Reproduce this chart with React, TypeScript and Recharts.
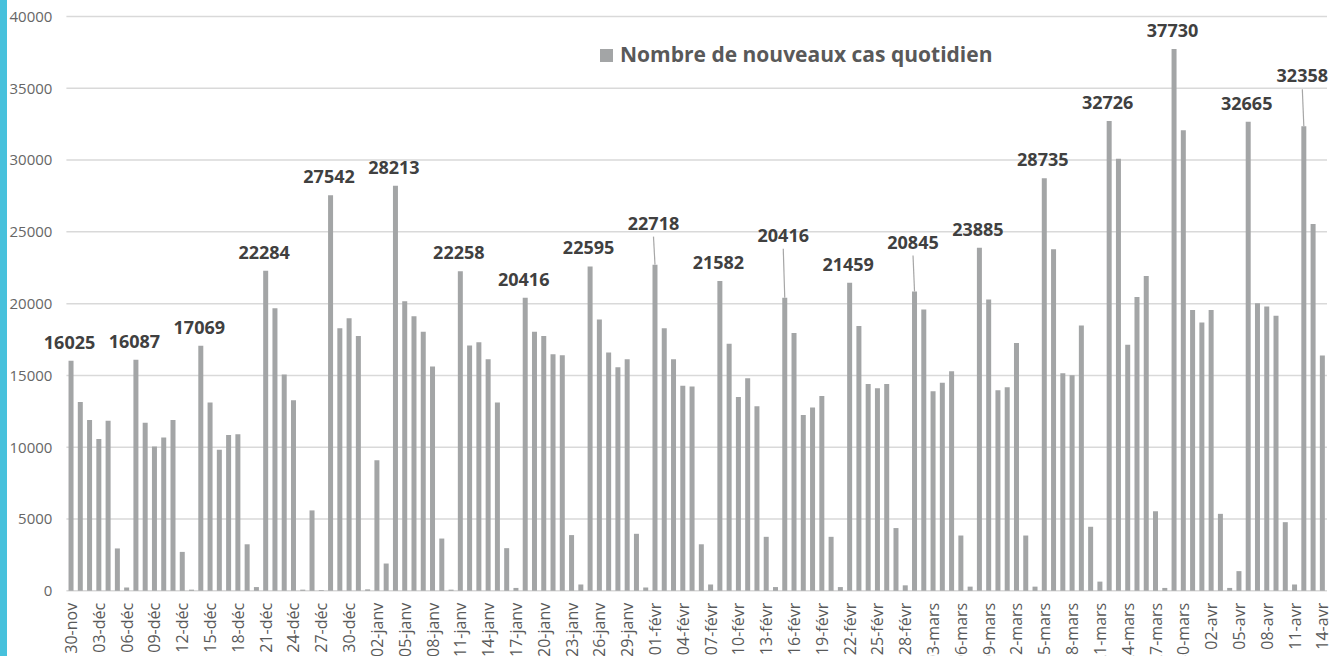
import React from 'react';
import { BarChart, Bar, XAxis, YAxis, CartesianGrid, Legend, LabelList } from 'recharts';

// daily new cases, one array per month
const novValues = [16025];
const decValues = [
  13150, 11900, 10580, 11840, 2950, 230, 16087, 11700, 10050, 10670, 11900, 2710, 80, 17069, 13120, 9830,
  10850, 10900, 3240, 260, 22284, 19680, 15070, 13270, 80, 5600, 50, 27542, 18280, 18980, 17750,
];
const janValues = [
  100, 9100, 1900, 28213, 20170, 19120, 18050, 15630, 3640, 80, 22258, 17080, 17320, 16120, 13120, 2970,
  200, 20416, 18050, 17750, 16470, 16410, 3880, 440, 22595, 18890, 16590, 15570, 16120, 3970, 230,
];
const febValues = [
  22718, 18280, 16120, 14290, 14230, 3240, 440, 21582, 17200, 13500, 14810, 12860, 3760, 260, 20416, 17960,
  12240, 12770, 13560, 3760, 260, 21459, 18450, 14400, 14110, 14400, 4370, 380,
];
const marValues = [
  20845, 19590, 13900, 14490, 15300, 3850, 290, 23885, 20290, 13970, 14170, 17260, 3850, 290, 28735, 23790,
  15160, 15010, 18480, 4460, 640, 32726, 30090, 17140, 20470, 21920, 5540, 200, 37730, 32070, 19560,
];
const aprValues = [18690, 19560, 5360, 200, 1370, 32665, 20030, 19800, 19150, 4780, 440, 32358, 25540, 16380];

const monthNames = ['nov', 'déc', 'janv', 'févr', 'mars', 'avr'];
const firstDays = [30, 1, 1, 1, 1, 1];
const monthValues = [novValues, decValues, janValues, febValues, marValues, aprValues];

// days whose value is written above the bar
const labelledDays = [
  '30-nov', '07-déc', '14-déc', '21-déc', '28-déc', '04-janv', '11-janv', '18-janv', '25-janv', '01-févr',
  '08-févr', '15-févr', '22-févr', '01-mars', '08-mars', '15-mars', '22-mars', '29-mars', '06-avr', '12-avr',
];

// extra lift (px) for labels that sit higher with a leader line
const leaderLift: Record<string, number> = { '01-févr': 23, '15-févr': 44, '01-mars': 31, '12-avr': 32 };

const seriesName = 'Nombre de nouveaux cas quotidien';

const chartData = monthValues.flatMap((vals, m) =>
  vals.map((v, i) => {
    const date = `${String(firstDays[m] + i).padStart(2, '0')}-${monthNames[m]}`;
    return { date, cases: v, label: labelledDays.includes(date) ? v : null };
  })
);

const yTicks = [0, 5000, 10000, 15000, 20000, 25000, 30000, 35000, 40000];

const FONT = '"Open Sans", "Noto Sans", sans-serif';

const PeakLabel = (props: any) => {
  const { x, y, width, value, index } = props;
  if (value == null || value === '') return null;
  const lift = leaderLift[chartData[index]?.date] ?? 0;
  const cx = Number(x) + Number(width) / 2;
  const ty = Number(y) - 19 - lift;
  return (
    <g>
      {lift > 0 && <line x1={cx - 1.5} x2={cx} y1={ty + 14} y2={Number(y)} stroke="#a6a6a6" strokeWidth={1.2} />}
      <text x={cx - 1.5} y={ty} textAnchor="middle" dominantBaseline="central" fontSize={18} fontWeight={700} fill="#404040" fontFamily={FONT}>
        {value}
      </text>
    </g>
  );
};

const DateTick = ({ x, y, payload }: any) => (
  <text
    x={x}
    y={y}
    transform={`rotate(-90, ${x}, ${y})`}
    textAnchor="end"
    dominantBaseline="central"
    fontSize={16}
    fill="#595959"
    fontFamily={FONT}
  >
    {payload.value}
  </text>
);

const LegendContent = ({ payload }: any) => (
  <div style={{ display: 'flex', alignItems: 'center', fontFamily: FONT }}>
    <span style={{ width: 13, height: 13, background: '#a3a5a6', marginRight: 7, marginTop: 2 }} />
    <span style={{ fontSize: 21, fontWeight: 700, color: '#595959', lineHeight: '28px' }}>
      {payload && payload.length ? payload[0].value : seriesName}
    </span>
  </div>
);

export default function App() {
  return (
    <div style={{ position: 'fixed', left: 0, top: 0, width: 1331, height: 656, background: '#fff', overflow: 'hidden' }}>
      <div style={{ position: 'absolute', left: 0, top: 0, width: 7, height: 656, background: '#47c1dc' }} />
      <BarChart
        width={1331}
        height={656}
        data={chartData}
        margin={{ top: 16.5, right: 4, bottom: 0, left: 0 }}
        barCategoryGap="23%"
      >
        <CartesianGrid vertical={false} stroke="#d9d9d9" strokeWidth={1.5} />
        <XAxis
          dataKey="date"
          interval={2}
          height={65.2}
          tickLine={false}
          axisLine={false}
          tickSize={0}
          tickMargin={12}
          tick={<DateTick />}
        />
        <YAxis
          width={66.4}
          domain={[0, 40000]}
          ticks={yTicks}
          tickLine={false}
          axisLine={false}
          tickSize={0}
          tickMargin={14}
          tick={{ fontSize: 15, fill: '#666666', fontFamily: FONT }}
        />
        <Legend
          layout="vertical"
          align="center"
          verticalAlign="middle"
          wrapperStyle={{ left: 600, top: 40, width: 440 }}
          content={<LegendContent />}
        />
        <Bar dataKey="cases" name={seriesName} fill="#a3a5a6" isAnimationActive={false}>
          <LabelList dataKey="label" content={<PeakLabel />} />
        </Bar>
      </BarChart>
    </div>
  );
}
